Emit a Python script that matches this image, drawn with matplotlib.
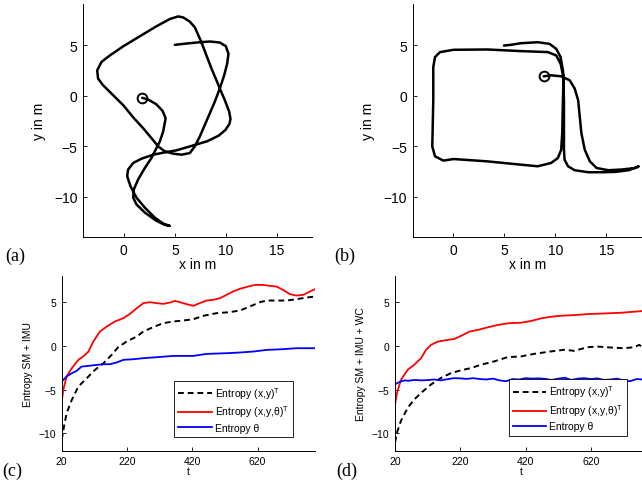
import matplotlib
matplotlib.use("Agg")
import matplotlib.pyplot as plt

plt.rcParams['font.family'] = ['Liberation Sans', 'DejaVu Sans']
plt.rcParams['mathtext.fontset'] = 'custom'
plt.rcParams['mathtext.rm'] = 'Liberation Sans'

# trajectory (a), in m (starts at the circle)
traj_a_x = [1.80, 2.39, 3.20, 3.80, 4.10, 3.86, 3.53, 3.20, 2.71, 2.06, 1.40, 0.98, 0.92, 1.24,
            2.06, 3.20, 4.02, 4.51,
            3.86, 3.04, 2.06, 1.24, 0.65, 0.33, 0.42, 0.92, 1.73, 2.88, 4.18, 5.16, 6.47, 7.20,
            8.20, 9.30, 9.95, 10.35, 10.46, 10.33, 9.90, 9.41, 9.08, 8.60, 8.10, 7.61, 6.96,
            6.47, 5.82, 5.33, 4.51, 3.20, 1.57, -0.03, -1.37, -2.19, -2.61, -2.52, -2.03,
            -1.05, -0.07, 1.00, 1.90, 2.71, 3.37, 4.02, 4.84, 5.65, 6.47, 6.96, 7.45, 7.94,
            8.43, 8.92, 9.41, 9.84, 10.13, 10.26, 10.00, 9.41, 8.43, 7.45, 6.14, 5.00]
traj_a_y = [-0.20, -0.37, -0.85, -1.50, -2.23, -3.54, -4.53, -5.19, -6.17, -7.16, -8.30, -9.29, -10.10, -10.77,
            -11.58, -12.40, -12.80, -12.90,
            -12.67, -12.08, -11.09, -10.10, -8.96, -7.97, -7.32, -6.66, -6.24, -5.84, -5.58, -5.41, -5.02, -4.80,
            -4.50, -3.95, -3.40, -2.80, -2.30, -1.58, -0.43, 0.72, 1.54, 2.69, 4.00, 5.31, 6.79,
            7.35, 7.77, 7.87, 7.61, 6.89, 5.90, 4.92, 4.00, 3.35, 2.52, 1.70, 1.04,
            0.06, -0.92, -2.23, -3.22, -4.20, -5.02, -5.51, -5.74, -5.84, -5.68, -5.02, -4.04, -2.89,
            -1.74, -0.59, 0.72, 2.03, 3.18, 4.16, 4.92, 5.28, 5.38, 5.31, 5.18, 5.05]

# trajectory (b)
traj_b_x = [8.85, 9.57, 10.56, 11.39, 11.88, 12.22, 12.38, 12.54, 12.87, 13.37, 14.03, 15.19, 16.50,
            17.82, 18.16, 17.17, 15.84, 14.52, 13.21, 11.88, 11.23, 10.89, 10.83, 10.83, 10.83,
            10.76, 10.50, 10.07, 9.25, 6.60, 3.30, 0.00, -1.32, -1.81, -1.98, -1.98, -2.05,
            -2.08, -1.81, -0.99, 0.00, 3.30, 6.60, 8.25, 9.57, 10.24, 10.56, 10.66, 10.73,
            10.79, 10.73, 10.50, 10.07, 9.41, 8.25, 6.60, 5.61, 4.95]
traj_b_y = [1.93, 2.03, 1.93, 1.54, 0.72, -0.43, -2.07, -3.71, -5.35, -6.50, -7.16, -7.38, -7.31,
            -7.16, -7.00, -7.38, -7.55, -7.58, -7.58, -7.38, -6.99, -6.34, -5.35, -3.71, -0.43,
            1.93, 3.18, 4.00, 4.33, 4.43, 4.59, 4.56, 4.33, 3.84, 2.85, -0.43, -3.71,
            -5.02, -6.00, -6.43, -6.27, -6.50, -6.83, -6.99, -6.66, -6.17, -5.35, -3.71, -0.43,
            1.93, 2.52, 3.84, 4.66, 5.15, 5.31, 5.21, 5.05, 4.98]

# entropy curves (c): SM + IMU
c_red_t = [20, 25, 35, 51, 71, 86, 102, 117, 137, 158, 183, 209, 229, 250, 270, 290, 311, 331,
           352, 367, 382, 403, 423, 443, 464, 484, 505, 525, 545, 566, 591, 612, 637, 657, 678,
           698, 719, 739, 760, 780, 796]
c_red = [-6.37, -5.04, -3.50, -2.56, -1.60, -1.22, -0.65, 0.50, 1.64, 2.21, 2.79, 3.17, 3.66,
         4.31, 4.89, 5.00, 4.89, 4.81, 4.96, 5.15, 5.00, 4.77, 4.58, 4.89, 5.19, 5.27, 5.46,
         5.84, 6.22, 6.53, 6.79, 6.98, 6.98, 6.87, 6.79, 6.41, 5.92, 5.76, 5.84, 6.22, 6.49]
c_black_t = [20, 27, 35, 51, 71, 97, 122, 148, 173, 193, 219, 250, 270, 300, 331, 362, 392, 423,
             454, 494, 535, 566, 596, 627, 648, 678, 709, 739, 770, 796]
c_black = [-10.76, -9.24, -7.71, -6.18, -4.66, -3.70, -2.75, -1.98, -1.03, -0.15, 0.50, 1.07,
           1.64, 2.14, 2.60, 2.79, 2.90, 3.05, 3.44, 3.74, 3.86, 4.05, 4.50, 5.00, 5.19, 5.19,
           5.19, 5.34, 5.53, 5.65]
c_blue_t = [20, 35, 51, 66, 81, 102, 127, 148, 168, 188, 209, 239, 270, 311, 362, 423, 464, 525,
            566, 607, 648, 698, 739, 796]
c_blue = [-4.08, -3.51, -3.13, -2.86, -2.37, -2.29, -2.18, -2.10, -2.10, -1.91, -1.60, -1.53,
          -1.41, -1.30, -1.15, -1.15, -0.92, -0.84, -0.76, -0.65, -0.46, -0.38, -0.27, -0.27]

# entropy curves (d): SM + IMU + WC
d_red_t = [20, 26, 38, 59, 79, 100, 115, 130, 151, 181, 202, 222, 248, 273, 304, 334, 365, 406,
           436, 467, 497, 528, 569, 610, 661, 712, 776, 796]
d_red = [-6.70, -5.40, -3.90, -2.73, -2.16, -1.40, -0.45, 0.11, 0.49, 0.68, 0.80, 1.14, 1.63,
         1.82, 2.12, 2.39, 2.58, 2.65, 2.84, 3.14, 3.33, 3.45, 3.52, 3.64, 3.71, 3.79, 3.98, 4.02]
d_black_t = [20, 26, 38, 59, 79, 100, 130, 161, 192, 222, 253, 283, 324, 365, 406, 447, 497, 538,
             569, 610, 640, 681, 722, 753, 768, 776, 796]
d_black = [-11.06, -9.92, -8.60, -7.08, -6.14, -5.38, -4.43, -3.67, -3.11, -2.80, -2.54, -2.16,
           -1.78, -1.29, -1.21, -0.91, -0.64, -0.45, -0.57, -0.15, -0.08, -0.19, -0.27, -0.15,
           0.11, -0.08, -0.05]
d_blue_t = [20, 30, 40, 50, 60, 80, 100, 120, 140, 160, 180, 200, 220, 240, 260, 280, 300, 320,
            340, 360, 380, 400, 420, 440, 460, 480, 500, 520, 540, 560, 580, 600, 620, 640,
            660, 680, 700, 720, 740, 760, 780, 796]
d_blue = [-4.40, -4.20, -4.05, -3.95, -4.00, -3.90, -3.95, -3.92, -3.85, -3.95, -3.82, -3.70,
          -3.72, -3.78, -3.70, -3.80, -3.85, -3.75, -3.95, -4.05, -3.80, -3.85, -3.70, -3.75,
          -3.72, -3.78, -3.90, -3.75, -3.65, -3.90, -3.75, -3.70, -3.80, -3.72, -3.90, -3.85,
          -3.75, -3.95, -4.05, -3.80, -3.85, -3.82]

legend_labels = ['Entropy (x,y)$^{\\mathrm{T}}$',
                 'Entropy (x,y,\u03b8)$^{\\mathrm{T}}$',
                 'Entropy \u03b8']


def style_axes(ax, fs):
    ax.spines['top'].set_visible(False)
    ax.spines['right'].set_visible(False)
    for s in ['left', 'bottom']:
        ax.spines[s].set_linewidth(0.7)
    ax.tick_params(direction='in', length=3, width=0.6, labelsize=fs, pad=4)


def traj_panel(ax, xs, ys):
    ax.plot(xs, ys, color='black', lw=1.8, solid_capstyle='round', solid_joinstyle='round')
    ax.plot(xs[0], ys[0], 'o', mfc='none', mec='black', ms=7, mew=1.4)
    ax.set_xlim(-4, 18.45)
    ax.set_ylim(-14, 9.1)
    ax.set_xticks([0, 5, 10, 15])
    ax.set_yticks([-10, -5, 0, 5])
    ax.set_yticklabels(['\u221210', '\u22125', '0', '5'])
    ax.set_xlabel('x in m', fontsize=10, labelpad=0)
    ax.set_ylabel('y in m', fontsize=10, labelpad=6)
    style_axes(ax, 10)


def entropy_panel(ax, red, black, blue, ylabel, leg_anchor):
    ax.plot(black[0], black[1], color='black', ls='--', lw=1.4, dashes=(3, 2))
    ax.plot(red[0], red[1], color='red', lw=1.3)
    ax.plot(blue[0], blue[1], color='blue', lw=1.3)
    ax.set_xlim(20, 796)
    ax.set_ylim(-12, 8)
    ax.set_xticks([20, 220, 420, 620])
    ax.set_yticks([-10, -5, 0, 5])
    ax.set_yticklabels(['\u221210', '\u22125', '0', '5'])
    ax.set_xlabel('t', fontsize=7.5, labelpad=0)
    ax.set_ylabel(ylabel, fontsize=7.5, labelpad=4)
    style_axes(ax, 7.5)
    leg = ax.legend(legend_labels, loc='lower right', bbox_to_anchor=leg_anchor,
                    fontsize=7.5, handlelength=3.2, fancybox=False, framealpha=1,
                    edgecolor='black', borderpad=0.4, labelspacing=0.3, handletextpad=0.3)
    leg.get_frame().set_linewidth(0.6)


fig = plt.figure(figsize=(6.42, 4.85), dpi=100)

ax_a = fig.add_axes([0.1293, 0.5093, 0.3567, 0.4804])
traj_panel(ax_a, traj_a_x, traj_a_y)
ax_b = fig.add_axes([0.6428, 0.5093, 0.3567, 0.4804])
traj_panel(ax_b, traj_b_x, traj_b_y)

ax_c = fig.add_axes([0.0961, 0.0687, 0.3946, 0.3602])
entropy_panel(ax_c, (c_red_t, c_red), (c_black_t, c_black), (c_blue_t, c_blue),
              'Entropy SM + IMU', (0.933, 0.05))
ax_d = fig.add_axes([0.6153, 0.0687, 0.3946, 0.3602])
entropy_panel(ax_d, (d_red_t, d_red), (d_black_t, d_black), (d_blue_t, d_blue),
              'Entropy SM + IMU + WC', (0.938, 0.057))

for lbl, x, y in [('(a)', 0.008, 0.462), ('(b)', 0.52, 0.462),
                  ('(c)', 0.004, 0.018), ('(d)', 0.523, 0.018)]:
    fig.text(x, y, lbl, fontsize=13, family='Liberation Serif')

fig.savefig('out.png', dpi=100)
